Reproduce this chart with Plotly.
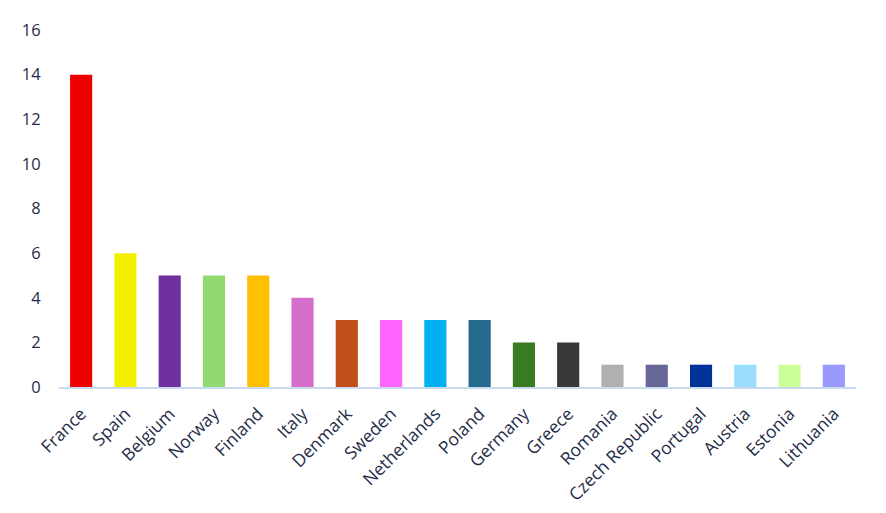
import plotly.graph_objects as go

countries = ["France", "Spain", "Belgium", "Norway", "Finland", "Italy", "Denmark", "Sweden",
             "Netherlands", "Poland", "Germany", "Greece", "Romania", "Czech Republic",
             "Portugal", "Austria", "Estonia", "Lithuania"]
values = [14, 6, 5, 5, 5, 4, 3, 3, 3, 3, 2, 2, 1, 1, 1, 1, 1, 1]
colors = ["#EE0000", "#F5F000", "#7030A0", "#92D970", "#FFC000", "#D66FCB", "#C0501A", "#FF66FF",
          "#00B0F0", "#246A8C", "#3A7A20", "#383838", "#B0B0B0", "#666699",
          "#003399", "#99DDFA", "#CCFF99", "#9999FF"]
y_ticks = [0, 2, 4, 6, 8, 10, 12, 14, 16]

fig = go.Figure(go.Bar(x=countries, y=values, marker=dict(color=colors, line=dict(width=0)),
                       hoverinfo="x+y"))

font_color = "#1F2D48"
fig.update_layout(
    width=886, height=513,
    margin=dict(l=51, r=38, t=22, b=134),
    paper_bgcolor="white", plot_bgcolor="white",
    bargap=0.5,
    showlegend=False,
    font=dict(family="Open Sans, Liberation Sans, sans-serif", size=16.5, color=font_color),
)
fig.update_xaxes(tickangle=-45, showline=True, linecolor="#C9D9EE", linewidth=1.5,
                 showgrid=False, automargin=False,
                 ticks="outside", ticklen=8, tickcolor="rgba(0,0,0,0)",
                 tickfont=dict(size=17.5, color=font_color))
fig.update_yaxes(range=[0, 16], tickvals=y_ticks, showgrid=False, zeroline=False,
                 showline=False, automargin=False,
                 ticks="outside", ticklen=14, tickcolor="rgba(0,0,0,0)",
                 tickfont=dict(size=16.5, color=font_color))

fig.write_html("out.html")
